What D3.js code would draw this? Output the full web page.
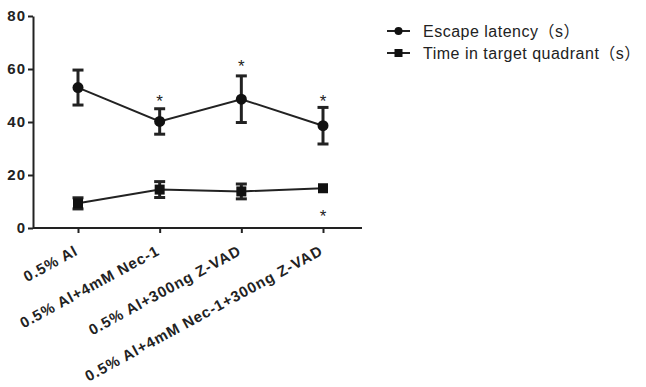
<!DOCTYPE html>
<meta charset="utf-8">
<head>
  <title>Escape latency chart</title>
</head>
<style>
body { margin: 0; background: #fff; font-family: "Liberation Sans", Arial, sans-serif; }
.axis path, .axis line { stroke: #222; stroke-width: 2; }
.axis text { font-size: 15px; font-weight: bold; fill: #222; letter-spacing: 1px; }
</style>
<body>
<script src="https://d3js.org/d3.v7.min.js"></script>
<script>
// data
var groups = ["0.5% Al", "0.5% Al+4mM Nec-1", "0.5% Al+300ng Z-VAD", "0.5% Al+4mM Nec-1+300ng Z-VAD"];
var escapeMean = [53.0, 40.2, 48.6, 38.6];
var escapeErr  = [6.6, 4.8, 8.8, 6.9];
var targetMean = [9.3, 14.5, 13.8, 15.0];
var targetErr  = [2.1, 3.0, 2.8, 0];
var starY = [null, 48.8, 61.8, 48.8];   // asterisks above escape latency
var starLow = [null, null, null, 5.4];  // asterisk below time in quadrant
var yTicks = [0, 20, 40, 60, 80];
var seriesNames = ["Escape latency（s）", "Time in target quadrant（s）"];

var w = 646, h = 387;
var svg = d3.select("body").append("svg").attr("width", w).attr("height", h);

var x = d3.scalePoint().domain(groups).range([78, 323]);
var y = d3.scaleLinear().domain([0, 80]).range([228, 16]);

// axes
svg.append("g").attr("class", "axis")
  .attr("transform", "translate(33,0)")
  .call(d3.axisLeft(y).tickValues(yTicks).tickSize(5).tickPadding(2).tickSizeOuter(0));

var xa = svg.append("g").attr("class", "axis")
  .attr("transform", "translate(0,228)")
  .call(d3.axisBottom(x).tickSize(5).tickFormat(""));
xa.select(".domain").attr("d", "M33,0H362");

svg.selectAll(".xlab").data(groups).enter().append("text")
  .attr("class", "xlab")
  .attr("transform", function(d) { return "translate(" + (x(d) + 1) + ",254) rotate(-28.5)"; })
  .attr("text-anchor", "end")
  .style("font-size", "15px").style("font-weight", "bold").style("fill", "#222")
  .style("letter-spacing", "0.9px")
  .text(function(d) { return d; });

var line = d3.line().x(function(d, i) { return x(groups[i]); }).y(function(d) { return y(d); });

function drawSeries(mean, err, shape) {
  var g = svg.append("g");
  g.append("path").datum(mean).attr("d", line)
    .attr("fill", "none").attr("stroke", "#222").attr("stroke-width", 2);
  mean.forEach(function(m, i) {
    var cx = x(groups[i]);
    if (err[i] > 0) {
      g.append("line").attr("x1", cx).attr("x2", cx).attr("y1", y(m + err[i])).attr("y2", y(m - err[i]))
        .attr("stroke", "#222").attr("stroke-width", 3);
      [m + err[i], m - err[i]].forEach(function(v) {
        g.append("line").attr("x1", cx - 5.5).attr("x2", cx + 5.5).attr("y1", y(v)).attr("y2", y(v))
          .attr("stroke", "#222").attr("stroke-width", 3);
      });
    }
    if (shape == "circle") {
      g.append("circle").attr("cx", cx).attr("cy", y(m)).attr("r", 5.5).attr("fill", "#111");
    } else {
      g.append("rect").attr("x", cx - 5).attr("y", y(m) - 5).attr("width", 10).attr("height", 10).attr("fill", "#111");
    }
  });
}
drawSeries(escapeMean, escapeErr, "circle");
drawSeries(targetMean, targetErr, "square");

// significance marks
function stars(vals) {
  svg.selectAll(null).data(vals.map(function(v, i) { return {v: v, i: i}; }).filter(function(d) { return d.v != null; }))
    .enter().append("text")
    .attr("x", function(d) { return x(groups[d.i]); })
    .attr("y", function(d) { return y(d.v) + 8; })
    .attr("text-anchor", "middle")
    .style("font-size", "17px").style("fill", "#222")
    .text("*");
}
stars(starY);
stars(starLow);

// legend
var leg = svg.append("g").attr("transform", "translate(387,31)");
seriesNames.forEach(function(name, i) {
  var gy = i * 22;
  leg.append("line").attr("x1", 0).attr("x2", 23).attr("y1", gy).attr("y2", gy)
    .attr("stroke", "#222").attr("stroke-width", 2);
  if (i == 0) leg.append("circle").attr("cx", 11.5).attr("cy", gy).attr("r", 4).attr("fill", "#111");
  else leg.append("rect").attr("x", 7.5).attr("y", gy - 4).attr("width", 8).attr("height", 8).attr("fill", "#111");
  leg.append("text").attr("x", 36).attr("y", gy + 6)
    .style("font-size", "16px").style("fill", "#222").style("letter-spacing", "0.5px")
    .style("font-family", "'Liberation Sans', 'Noto Sans CJK SC', sans-serif")
    .text(name);
});
</script>
</body>
</html>
